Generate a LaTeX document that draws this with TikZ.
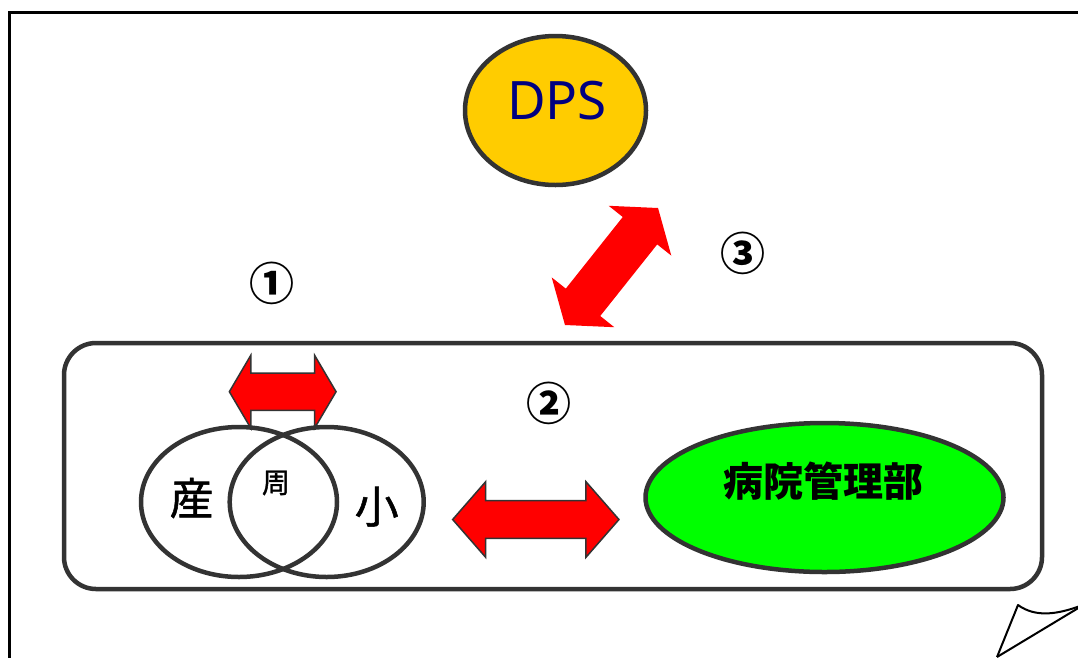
\documentclass[tikz,border=0pt]{standalone}
\usepackage{fontspec}
\newfontfamily\cjk{Noto Sans CJK JP}
\newfontfamily\cjkm{Noto Sans CJK JP}[FakeBold=1.2]
\setsansfont{Noto Sans}
\usetikzlibrary{shapes.geometric}
\definecolor{edgegray}{HTML}{333333}
\definecolor{dpsfill}{HTML}{FFCC00}
\definecolor{dpstext}{HTML}{000080}
\definecolor{mgmtfill}{HTML}{00FF00}
\definecolor{arrowred}{HTML}{FF0000}
\tikzset{
  oval/.style={ellipse, draw=edgegray, line width=4.5pt, inner sep=0pt},
  venn/.style={oval, fill=none},
  blockarrow/.style={fill=arrowred, draw=edgegray, line width=1.5pt, line join=miter},
  blockarrownoline/.style={fill=arrowred, draw=none},
  numlabel/.style={font=\cjk\bfseries\fontsize{45}{45}\selectfont, inner sep=0pt},
}
% double block arrow: #1 center, #2 angle, #3 total length, #4 shaft width, #5 head width, #6 head length, #7 style
\newcommand\dblblockarrow[7]{%
  \begin{scope}[shift={#1}, rotate=#2]
    \pgfmathsetmacro\hl{#3/2}\pgfmathsetmacro\hs{#4/2}\pgfmathsetmacro\hw{#5/2}\pgfmathsetmacro\hb{#3/2-#6}
    \path[#7] (-\hl,0) -- (-\hb,\hw) -- (-\hb,\hs) -- (\hb,\hs) -- (\hb,\hw) -- (\hl,0)
      -- (\hb,-\hw) -- (\hb,-\hs) -- (-\hb,-\hs) -- (-\hb,-\hw) -- cycle;
  \end{scope}}
\begin{document}
\begin{tikzpicture}[x=1pt,y=-1pt]
\useasboundingbox (0,0) rectangle (1078,657);
\clip (0,0) rectangle (1078,657);
\fill[white] (0,0) rectangle (1078,657);
% outer frame
\draw[black, line width=3pt] (9.5,700) -- (9.5,12) -- (1100,12);
% page curl
\coordinate (curlA) at (997,657);
\coordinate (curlB) at (1018,605);
\coordinate (curlC) at (1080,606);
\coordinate (curlD) at (1080,607);
\draw[black, line width=2pt, line join=round] (curlA) -- (curlB) .. controls (1036,618) and (1058,614) .. (curlC);
\draw[black, line width=2pt] (curlA) -- (curlD);
% group box
\node[draw=edgegray, line width=4.5pt, rounded corners=32pt, minimum width=978pt, minimum height=246pt, inner sep=0pt] (group) at (553,466) {};
% DPS
\node[oval, fill=dpsfill, minimum width=181pt, minimum height=149pt] (dps) at (555.5,110.5) {};
\node[text=dpstext, font=\sffamily\fontsize{53}{53}\selectfont, inner sep=0pt] (dpslabel) at (557,101) {DPS};
% Venn circles
\node[venn, minimum width=196pt, minimum height=150pt] (san) at (239,502) {};
\node[venn, minimum width=194pt, minimum height=150pt] (sho) at (326.7,502) {};
\node[font=\cjkm\fontsize{44}{44}\selectfont, inner sep=0pt] (sanlabel) at (191.7,498) {産};
\node[font=\cjkm\fontsize{28}{28}\selectfont, inner sep=0pt] (shulabel) at (276,483) {周};
\node[font=\cjkm\fontsize{44}{44}\selectfont, inner sep=0pt] (sholabel) at (376.7,506.7) {小};
% hospital management
\node[oval, fill=mgmtfill, minimum width=358pt, minimum height=149pt] (mgmt) at (824.5,497.5) {};
\node[font=\cjk\bfseries\fontsize{40}{40}\selectfont, inner sep=0pt] (mgmtlabel) at (823,481) {病院管理部};
% arrows
\dblblockarrow{(282.7,391.7)}{0}{106.7}{37.4}{72.7}{21.4}{blockarrow}
\dblblockarrow{(535.8,519.5)}{0}{166.3}{37.6}{75.6}{33}{blockarrow}
\dblblockarrow{(611.5,266.5)}{51.5}{149.5}{44}{80}{29}{blockarrownoline}
% numbers
\node[numlabel] (n1) at (271.7,283.3) {①};
\node[numlabel] (n2) at (549.2,403.3) {②};
\node[numlabel] (n3) at (742.5,253.3) {③};
\end{tikzpicture}
\end{document}
